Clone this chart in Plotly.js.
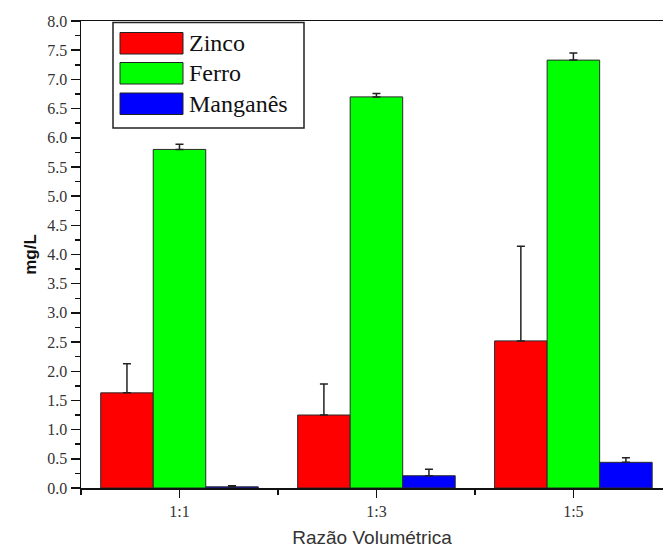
<!DOCTYPE html>
<html>
<head>
<meta charset="utf-8">
<script src="https://cdn.plot.ly/plotly-3.0.1.min.js"></script>
<style>
  html, body { margin: 0; padding: 0; background: #fff; }
  #chart { width: 663px; height: 556px; }
</style>
</head>
<body>
<div id="chart"></div>
<script>
// Razão volumétrica vs. concentração (mg/L)
const categories = ['1:1', '1:3', '1:5'];
const seriesNames = ['Zinco', 'Ferro', 'Manganês'];
const seriesColors = ['#ff0000', '#00ff00', '#0000ff'];

const zinco    = [1.63, 1.25, 2.52];
const zincoErr = [0.50, 0.53, 1.62];
const ferro    = [5.80, 6.70, 7.33];
const ferroErr = [0.09, 0.06, 0.12];
const manganes    = [0.02, 0.21, 0.44];
const manganesErr = [0.02, 0.11, 0.08];

const yTicks = [0, 0.5, 1, 1.5, 2, 2.5, 3, 3.5, 4, 4.5, 5, 5.5, 6, 6.5, 7, 7.5, 8];

const values = [zinco, ferro, manganes];
const errors = [zincoErr, ferroErr, manganesErr];
const xIdx = categories.map((c, i) => i);

const traces = values.map((v, k) => ({
  type: 'bar',
  name: seriesNames[k],
  x: xIdx,
  y: v,
  marker: { color: seriesColors[k], line: { color: '#2a2a2a', width: 1 } },
  error_y: {
    type: 'data', symmetric: false,
    array: errors[k], arrayminus: v.map(() => 0),
    color: '#222', thickness: 1.5, width: 4
  },
  showlegend: false,
  hoverinfo: 'skip'
}));

// Plot area in pixels
const W = 663, H = 556;
const M = { l: 81, r: 0, t: 21, b: 68 };
const pw = W - M.l - M.r, ph = H - M.t - M.b;
const px = x => (x - M.l) / pw;
const py = y => 1 - (y - M.t) / ph;

// Boxed legend with large swatches
const shapes = [{
  type: 'rect', xref: 'paper', yref: 'paper',
  x0: px(113), x1: px(304), y0: py(128), y1: py(22.5),
  line: { color: '#222', width: 1.5 }, fillcolor: 'rgba(255,255,255,0)'
}];
const annotations = [];
const rowTop = [32.5, 62.5, 93];
seriesNames.forEach((name, k) => {
  const t = rowTop[k], b = t + 21.5;
  shapes.push({
    type: 'rect', xref: 'paper', yref: 'paper',
    x0: px(120), x1: px(183), y0: py(b), y1: py(t),
    fillcolor: seriesColors[k], line: { color: '#222', width: 1 }
  });
  annotations.push({
    xref: 'paper', yref: 'paper', x: px(187), y: py((t + b) / 2),
    xanchor: 'left', yanchor: 'middle', showarrow: false,
    text: name,
    font: { family: '"Liberation Serif", "Times New Roman", serif', size: 24, color: '#111' }
  });
});

const layout = {
  width: W, height: H,
  margin: M,
  paper_bgcolor: '#fff', plot_bgcolor: '#fff',
  barmode: 'group', bargap: 0.2, bargroupgap: 0,
  showlegend: false,
  xaxis: {
    range: [-0.5, 2.455],
    tickmode: 'array', tickvals: xIdx, ticktext: categories,
    ticks: 'outside', ticklen: 8, tickwidth: 1.5, tickcolor: '#111',
    minor: { tickmode: 'array', tickvals: [-0.5, 0.5, 1.5, 2.5], ticks: 'outside', ticklen: 5, tickwidth: 1.5, tickcolor: '#111' },
    showline: true, linecolor: '#111', linewidth: 1.5, mirror: true,
    showgrid: false, zeroline: false,
    tickfont: { family: '"Liberation Serif", "Times New Roman", serif', size: 16, color: '#333' },
    title: { text: 'Razão Volumétrica', standoff: 12,
      font: { family: '"Liberation Sans", Arial, sans-serif', size: 19, color: '#333' } }
  },
  yaxis: {
    range: [0, 8],
    tickmode: 'array', tickvals: yTicks, ticktext: yTicks.map(v => v.toFixed(1)),
    ticks: 'outside', ticklen: 9, tickwidth: 1.5, tickcolor: '#111',
    minor: { dtick: 0.25, tick0: 0, ticks: 'outside', ticklen: 5, tickwidth: 1.5, tickcolor: '#111' },
    showline: true, linecolor: '#111', linewidth: 1.5,
    showgrid: false, zeroline: false,
    tickfont: { family: '"Liberation Serif", "Times New Roman", serif', size: 16, color: '#333' },
    title: { text: 'mg/L', standoff: 6,
      font: { family: '"Liberation Sans", Arial, sans-serif', size: 17, color: '#111', weight: 'bold' } }
  },
  shapes: shapes,
  annotations: annotations
};

Plotly.newPlot('chart', traces, layout, { staticPlot: true, displayModeBar: false });
</script>
</body>
</html>
